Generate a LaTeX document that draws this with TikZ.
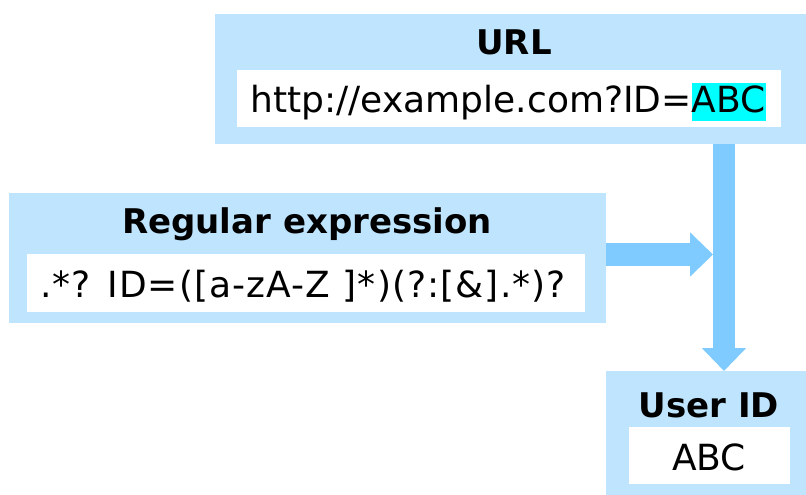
\documentclass[tikz,border=0pt]{standalone}
\usepackage{fontspec}
\setmainfont{DejaVu Sans}
\newfontfamily\patternfont[LetterSpace=3]{DejaVu Sans}
\usetikzlibrary{arrows.meta}
\definecolor{panel}{HTML}{BEE5FD}
\definecolor{flow}{HTML}{7FCBFF}
\definecolor{mark}{HTML}{00FFFF}
\begin{document}
\begin{tikzpicture}[x=1pt,y=-1pt,
  box/.style={anchor=north west,inner sep=0pt,outer sep=0pt,draw=none},
  panelbox/.style={box,fill=panel},
  fieldbox/.style={box,fill=white},
  heading/.style={anchor=base,inner sep=0pt,font=\fontsize{34}{40}\selectfont\bfseries},
  body/.style={anchor=base,inner sep=0pt,font=\fontsize{36}{42}\selectfont},
  flowarrow/.style={draw=flow,line width=#1,-{Triangle[width=43pt,length=23pt]}}
]
\useasboundingbox (0,0) rectangle (806,495);

% URL panel
\node[panelbox,minimum width=591pt,minimum height=130pt] (url) at (215,14) {};
\node[fieldbox,minimum width=544pt,minimum height=57pt] (urlfield) at (237,70) {};
\node[heading] (urltitle) at (514,55) {URL};
\node[body] (urltext) at (508,113)
  {http://example.com?ID={\setlength{\fboxsep}{0pt}\colorbox{mark}{\rule[-8pt]{0pt}{38pt}ABC}}};

% Regular expression panel
\node[panelbox,minimum width=597pt,minimum height=130pt] (regex) at (9,193) {};
\node[fieldbox,minimum width=558pt,minimum height=58pt] (regexfield) at (27,254) {};
\node[heading] (regextitle) at (307,233) {Regular expression};
\node[body,font=\fontsize{36}{42}\patternfont] (regextext) at (303,297) {.*? ID=([a-zA-Z ]*)(?:[\&].*)?};

% User ID panel
\node[panelbox,minimum width=200pt,minimum height=124pt] (user) at (606,371) {};
\node[fieldbox,minimum width=161pt,minimum height=57pt] (userfield) at (629,427) {};
\node[heading] (usertitle) at (709,417) {User ID};
\node[body] (usertext) at (709,470) {ABC};

% Connectors
\coordinate (axis) at (724,0);
\coordinate (join) at (713,254.5);
\draw[flowarrow=22pt] (url.south -| axis) -- (user.north -| axis);
\draw[flowarrow=23pt] (regex.east |- join) -- (join);
\end{tikzpicture}
\end{document}
